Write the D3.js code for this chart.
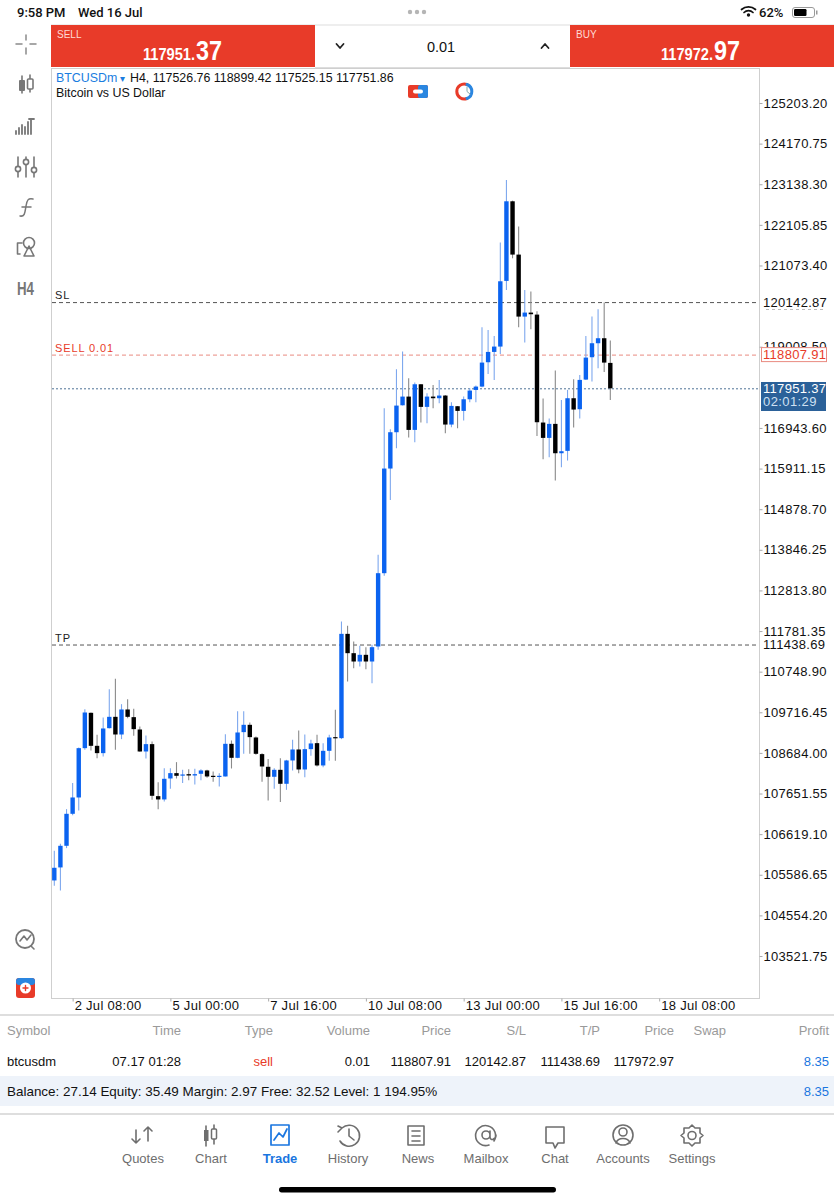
<!DOCTYPE html>
<html>
<head>
<meta charset="utf-8">
<script src="https://cdn.jsdelivr.net/npm/d3@7"></script>
<style>
  html, body { margin: 0; padding: 0; background: #fff; }
  svg { display: block; }
  text { font-family: "Liberation Sans", Arial, sans-serif; }
</style>
</head>
<body>
<div id="chart"></div>
<script>
// candles (H4 bars, oldest first)
var opens = [105442,105773,106323,107136,107551,108805,109703,108864,108678,109313,109601,109152,109788,109593,109279,108720,108907,107585,107501,108034,
  108170,108110,108144,108110,108153,108238,108102,108093,108085,108915,108559,109212,109398,109076,108653,108331,108077,108254,107899,108492,
  108771,108263,108780,108932,108365,108737,109085,109059,111710,111219,111007,111177,111007,111389,113252,115912,116835,117520,117741,116894,
  118054,117479,117741,117699,117767,117030,117496,117377,117673,117910,117995,118614,118876,119012,120681,122705,121350,119774,119876,119825,
  117081,116691,117047,116301,116361,117699,117420,118173,118741,119097,119224,118597];
var highs = [106196,106374,107255,107916,108822,109796,109711,109144,109584,110304,110567,109923,110050,109805,109356,109127,108974,107941,108297,108297,
  108449,108254,108271,108280,108271,108254,108212,108170,109161,109000,109745,109745,109457,109102,108678,108526,108297,108551,108508,109017,
  109254,109152,109017,109144,108932,109144,109779,112024,111914,111515,111405,111371,111431,113718,117445,116911,118436,118885,118207,118097,
  118060,117826,118038,118165,117783,117597,117504,117741,117953,118021,119503,119435,119283,121655,123247,122722,122061,120452,120409,119910,
  117691,117182,118402,117657,117911,118182,118292,119283,119774,119961,120130,119164];
var lows = [105307,105188,106264,107100,107221,108763,108746,108551,108593,109305,108763,109034,109567,109118,108712,108542,107492,107255,107450,107772,
  108034,107916,107992,107882,107992,108051,107950,107831,108085,108288,108551,108661,108661,108640,107950,107475,107772,107433,107746,108238,
  108170,108068,108610,108339,108322,108483,108483,109034,110499,110838,110880,110812,110457,111304,113184,115115,116428,117512,116699,116581,
  117080,117063,117445,117572,116809,116962,116936,117131,117597,117597,117979,118317,118165,118826,120452,121256,119503,119113,119452,116742,
  116149,116200,115607,115946,116115,116954,117182,118165,118123,118461,118368,117657];
var closes = [105764,106323,107136,107551,108805,109711,108864,108678,109305,109601,109152,109788,109601,109288,108720,108907,107594,107501,108026,108170,
  108102,108136,108110,108144,108238,108085,108093,108102,108915,108559,109203,109398,109085,108661,108339,108077,108254,107899,108492,108771,
  108263,108780,108924,108365,108737,109076,109068,111710,111219,111007,111177,111007,111371,113252,115912,116835,117512,117741,116894,118054,
  117479,117741,117699,117767,117030,117504,117377,117673,117894,117995,118605,118876,119012,120672,122705,121350,119774,119876,119834,117089,
  116691,117047,116301,116352,117699,117411,118165,118732,119097,119224,118605,117951.37];

var priceTicks = [125203.20,124170.75,123138.30,122105.85,121073.40,119008.50,116943.60,115911.15,114878.70,113846.25,112813.80,111781.35,110748.90,
  109716.45,108684.00,107651.55,106619.10,105586.65,104554.20,103521.75];
var timeTickBars = [3,19,35,51,67,83,99];
var timeLabels = ["2 Jul 08:00","5 Jul 00:00","7 Jul 16:00","10 Jul 08:00","13 Jul 00:00","15 Jul 16:00","18 Jul 08:00"];

var slPrice = 120142.87, sellPrice = 118807.91, tpPrice = 111438.69, bidPrice = 117951.37;

var tableHead = ["Symbol","Time","Type","Volume","Price","S/L","T/P","Price","Swap","Profit"];
var tableRow = ["btcusdm","07.17 01:28","sell","0.01","118807.91","120142.87","111438.69","117972.97","","8.35"];
var tableRight = [null,181,273,370,451,526,600,674,726,829];
var navLabels = ["Quotes","Chart","Trade","History","News","Mailbox","Chat","Accounts","Settings"];
var navX = [143,211,280,348,418,486,555,623,692];

var W = 834, H = 1200;
var BLUE = "#0b63f0", RED = "#e83b29", GREY = "#6e6e6e", NAVBLUE = "#1a76e0";

var svg = d3.select("#chart").append("svg").attr("width", W).attr("height", H);

var x = d3.scaleLinear().domain([0, 91]).range([54.3, 610.3]);
var y = d3.scaleLinear().domain([103521.75, 125203.20]).range([956, 103]);

var label = function(sel, px, py, str, size, fill, anchor, weight) {
    return sel.append("text")
        .attr("x", px).attr("y", py)
        .attr("font-size", size)
        .attr("fill", fill || "#000")
        .attr("text-anchor", anchor || "start")
        .attr("font-weight", weight || "normal")
        .text(str);
};
var squeeze = function(sel, len) {
    return sel.attr("textLength", len).attr("lengthAdjust", "spacingAndGlyphs");
};
var icon = function(d, color, w, fill) {
    return svg.append("path").attr("d", d)
        .attr("fill", fill || "none")
        .attr("stroke", color || GREY)
        .attr("stroke-width", w || 1.5)
        .attr("stroke-linecap", "round").attr("stroke-linejoin", "round");
};

// plot frame
svg.append("rect").attr("x", 51.5).attr("y", 68.5).attr("width", 708).attr("height", 930)
    .attr("fill", "#fff").attr("stroke", "#cfcfcf");

// axes
var yAxis = d3.axisRight(y).tickValues(priceTicks).tickSize(3).tickPadding(1)
    .tickFormat(function(d) { return d.toFixed(2); });
var gy = svg.append("g").attr("transform", "translate(759.5,0)").call(yAxis);
gy.select(".domain").remove();
gy.selectAll("text").attr("font-size", 13).attr("letter-spacing", 0.3).attr("fill", "#111")
    .style("font-family", '"Liberation Sans", sans-serif');
gy.selectAll("line").attr("stroke", "#aaa");

var xAxis = d3.axisBottom(x).tickValues(timeTickBars).tickSize(3).tickPadding(0)
    .tickFormat(function(d, i) { return timeLabels[i]; });
var gx = svg.append("g").attr("transform", "translate(0,998.5)").call(xAxis);
gx.select(".domain").remove();
gx.selectAll("text").attr("font-size", 13).attr("text-anchor", "start").attr("dx", 1.5).attr("dy", "0.62em").attr("letter-spacing", 0.3)
    .attr("fill", "#111").style("font-family", '"Liberation Sans", sans-serif');
gx.selectAll("line").attr("stroke", "#aaa");

// trade levels
var levelLine = function(price, color, dash) {
    svg.append("line")
        .attr("x1", 52).attr("x2", 759)
        .attr("y1", y(price) + 0.5).attr("y2", y(price) + 0.5)
        .attr("stroke", color).attr("stroke-width", 1).attr("stroke-dasharray", dash);
};
levelLine(slPrice, "#555", "4,3");
levelLine(sellPrice, "#e98a80", "4,3");
levelLine(tpPrice, "#555", "4,3");
levelLine(bidPrice, "#4f7396", "2,2");

label(svg, 55, y(slPrice) - 3, "SL", 11, "#222").attr("letter-spacing", 1);
label(svg, 55, y(sellPrice) - 3, "SELL 0.01", 11, RED).attr("letter-spacing", 0.9);
label(svg, 55, y(tpPrice) - 3, "TP", 11, "#222").attr("letter-spacing", 1);

// candles
var bars = d3.range(opens.length).map(function(i) {
    return { i: i, o: opens[i], h: highs[i], l: lows[i], c: closes[i], up: closes[i] >= opens[i] };
});
var candle = svg.append("g").selectAll("g").data(bars).enter().append("g");
candle.append("line")
    .attr("x1", function(d) { return x(d.i); })
    .attr("x2", function(d) { return x(d.i); })
    .attr("y1", function(d) { return y(d.h); })
    .attr("y2", function(d) { return y(d.l); })
    .attr("stroke", function(d) { return d.up ? "#7ea8ee" : "#8a8a8a"; })
    .attr("stroke-width", 1.1);
candle.append("rect")
    .attr("x", function(d) { return x(d.i) - 2.2; })
    .attr("width", 4.4)
    .attr("y", function(d) { return y(Math.max(d.o, d.c)); })
    .attr("height", function(d) { return Math.max(1.2, Math.abs(y(d.o) - y(d.c))); })
    .attr("fill", function(d) { return d.up ? BLUE : "#000"; });

// price boxes on the right
label(svg, 763, y(slPrice) + 4.5, slPrice.toFixed(2), 13, "#111").attr("letter-spacing", 0.3);
svg.append("line").attr("x1", 766).attr("x2", 826).attr("y1", 309.5).attr("y2", 309.5)
    .attr("stroke", "#bbb").attr("stroke-dasharray", "3,3");
label(svg, 763, y(tpPrice) + 4.5, tpPrice.toFixed(2), 13, "#111").attr("letter-spacing", 0.3);

svg.append("rect").attr("x", 761.5).attr("y", y(sellPrice) - 7).attr("width", 65).attr("height", 14)
    .attr("fill", "#fff").attr("stroke", "#e98a80");
label(svg, 763, y(sellPrice) + 4.5, sellPrice.toFixed(2), 13, RED).attr("letter-spacing", 0.3);

svg.append("rect").attr("x", 761).attr("y", 382).attr("width", 65).attr("height", 29).attr("fill", "#2b6199");
label(svg, 763, 393, bidPrice.toFixed(2), 13, "#fff").attr("letter-spacing", 0.3);
label(svg, 763, 406, "02:01:29", 13, "#cfe0f2").attr("letter-spacing", 0.4);

// chart caption
label(svg, 56, 82, "BTCUSDm", 12.4, "#1a7de0");
label(svg, 120, 82, "\u25BE", 10, "#1a7de0");
label(svg, 130, 82, "H4, 117526.76 118899.42 117525.15 117751.86", 12.4, "#111");
label(svg, 56, 97, "Bitcoin vs US Dollar", 12.4, "#111");
// one click trading + clock badges
svg.append("rect").attr("x", 408).attr("y", 85).attr("width", 20).attr("height", 13).attr("rx", 2).attr("fill", RED);
svg.append("rect").attr("x", 418).attr("y", 85).attr("width", 10).attr("height", 13).attr("rx", 2).attr("fill", "#2a86e0");
svg.append("rect").attr("x", 413).attr("y", 89.5).attr("width", 10).attr("height", 4).attr("rx", 2).attr("fill", "#fff");
icon("M467 84.5A7.5 7.5 0 1 0 467 98.5", RED, 3);
icon("M467 84.5A7.5 7.5 0 0 1 467 98.5", "#2a86e0", 3);
icon("M467 87V91.5L470 94", "#8aa", 1);

// status bar
label(svg, 17, 17, "9:58 PM", 13, "#111", "start", 500).style("font-family", "Roboto");
label(svg, 78, 17, "Wed 16 Jul", 13, "#111", "start", 500).style("font-family", "Roboto");
[410, 417, 424].forEach(function(cx) {
    svg.append("circle").attr("cx", cx).attr("cy", 12).attr("r", 2.2).attr("fill", "#b5b5b5");
});
icon("M741.5 9.5a10.5 10.5 0 0 1 14 0M744 12.5a6.5 6.5 0 0 1 9 0", "#111", 1.7);
svg.append("circle").attr("cx", 748.5).attr("cy", 15).attr("r", 1.7).attr("fill", "#111");
label(svg, 759, 17, "62%", 13, "#111", "start", 500).style("font-family", "Roboto");
svg.append("rect").attr("x", 792.5).attr("y", 7.5).attr("width", 22).attr("height", 10).attr("rx", 2.5)
    .attr("fill", "none").attr("stroke", "#999");
svg.append("rect").attr("x", 794).attr("y", 9).attr("width", 12.5).attr("height", 7).attr("rx", 1.2).attr("fill", "#000");
svg.append("rect").attr("x", 816).attr("y", 10.5).attr("width", 1.5).attr("height", 4).attr("fill", "#999");

// sell / volume / buy strip
svg.append("line").attr("x1", 51).attr("x2", 834).attr("y1", 25).attr("y2", 25).attr("stroke", "#ddd");
svg.append("rect").attr("x", 51).attr("y", 25).attr("width", 264).attr("height", 42).attr("fill", RED);
svg.append("rect").attr("x", 570).attr("y", 25).attr("width", 264).attr("height", 42).attr("fill", RED);
svg.append("line").attr("x1", 315).attr("x2", 570).attr("y1", 67.5).attr("y2", 67.5).attr("stroke", "#ddd");

label(svg, 57, 38, "SELL", 10, "#ffd9d3");
squeeze(label(svg, 143, 60, "117951.", 16, "#fff", "start", 700), 52);
squeeze(label(svg, 196, 60, "37", 28, "#fff", "start", 700), 26);
label(svg, 576, 38, "BUY", 10, "#ffd9d3");
squeeze(label(svg, 661, 60, "117972.", 16, "#fff", "start", 700), 52);
squeeze(label(svg, 714, 60, "97", 28, "#fff", "start", 700), 26);
label(svg, 441, 52, "0.01", 14.5, "#111", "middle");
icon("M336.5 44L340 48L343.5 44", "#222", 1.8);
icon("M541.5 48L545 44L548.5 48", "#222", 1.8);

// left toolbar
icon("M16 44H22M30 44H36M26 35V40M26 48V54", "#8a8a8a", 1.5);
icon("M22 76V93M30 75V92", "#777", 1.6);
svg.append("rect").attr("x", 19).attr("y", 80).attr("width", 6).attr("height", 11).attr("rx", 1).attr("fill", "#777");
svg.append("rect").attr("x", 27.5).attr("y", 79).attr("width", 5.5).attr("height", 10).attr("rx", 1)
    .attr("fill", "#fff").attr("stroke", "#777").attr("stroke-width", 1.6);
icon("M16 134V131M19 134V128M22 134V125M25 134V127M28 134V122M31 134V120M29 119H34", "#777", 1.8);
icon("M18 157V177M26 157V177M34 157V177", "#777", 1.6);
[[18, 169], [26, 162], [34, 170]].forEach(function(p) {
    svg.append("circle").attr("cx", p[0]).attr("cy", p[1]).attr("r", 2.6)
        .attr("fill", "#fff").attr("stroke", "#777").attr("stroke-width", 1.6);
});
icon("M20 216C25 217 25 212 26 206C27 200 28 198 33 199M22 207H31", "#777", 1.5);
svg.append("circle").attr("cx", 29).attr("cy", 243).attr("r", 5.5)
    .attr("fill", "none").attr("stroke", "#777").attr("stroke-width", 1.6);
icon("M29 246L34 256H24ZM22 243H17.5V254H20", "#777", 1.6);
squeeze(label(svg, 17, 295, "H4", 18, "#777", "start", "bold"), 17);
svg.append("circle").attr("cx", 25).attr("cy", 939).attr("r", 9)
    .attr("fill", "none").attr("stroke", "#777").attr("stroke-width", 1.8);
icon("M20 941L24 936L27 940L31 935M31 946L34 949", "#777", 1.6);
svg.append("rect").attr("x", 16).attr("y", 978).attr("width", 19).attr("height", 20).attr("rx", 3).attr("fill", RED);
svg.append("rect").attr("x", 16).attr("y", 978).attr("width", 19).attr("height", 7).attr("rx", 3).attr("fill", "#2a86e0");
svg.append("circle").attr("cx", 25.5).attr("cy", 988).attr("r", 5.5).attr("fill", "#fff");
icon("M25.5 985.5V990.5M23 988H28", RED, 1.4);

// positions table
svg.append("line").attr("x1", 0).attr("x2", W).attr("y1", 1015).attr("y2", 1015).attr("stroke", "#dedede").attr("stroke-width", 2);
svg.append("rect").attr("x", 0).attr("y", 1076).attr("width", W).attr("height", 30).attr("fill", "#eef3fa");
svg.append("line").attr("x1", 0).attr("x2", W).attr("y1", 1114).attr("y2", 1114).attr("stroke", "#dedede").attr("stroke-width", 2);

tableHead.forEach(function(t, i) {
    if (i === 0) label(svg, 7, 1035, t, 13, "#9a9a9a");
    else label(svg, tableRight[i], 1035, t, 13, "#9a9a9a", "end");
});
tableRow.forEach(function(t, i) {
    var fill = t === "sell" ? RED : (i === 9 ? NAVBLUE : "#111");
    if (i === 0) label(svg, 7, 1066, t, 13, fill);
    else label(svg, tableRight[i], 1066, t, 13, fill, "end");
});
label(svg, 7, 1096, "Balance: 27.14 Equity: 35.49 Margin: 2.97 Free: 32.52 Level: 1 194.95%", 13.45, "#111");
label(svg, 829, 1096, "8.35", 13, NAVBLUE, "end");

// bottom navigation
var navColor = function(i) { return navLabels[i] === "Trade" ? NAVBLUE : GREY; };
navLabels.forEach(function(t, i) {
    label(svg, navX[i], 1163, t, 13, navColor(i), "middle", navLabels[i] === "Trade" ? "bold" : "normal");
});
var navIcons = [
    "M136 1130V1143M132 1139L136 1143L140 1139M148 1141V1127M144 1131L148 1127L152 1131",
    "M206 1126V1146M214 1125V1144",
    "M271 1125H289V1145H271ZM274 1140L279 1133L283 1137L287 1129",
    "M342 1128A10.5 10.5 0 1 1 340 1141M338 1132L342 1128L338 1126M349 1129V1136L354 1140",
    "M408 1126H424V1145H408ZM412 1131H420M412 1136H420M412 1141H420",
    "M494 1141A10 10 0 1 0 489 1145M490 1135A4 4 0 1 1 482 1135A4 4 0 1 1 490 1135M490 1131V1137C490 1141 496 1140 496 1135",
    "M546 1127H564V1143H558L555 1148L553 1143H546Z",
    "M633 1135A10 10 0 1 1 613 1135A10 10 0 1 1 633 1135M627 1132A4 4 0 1 1 619 1132A4 4 0 1 1 627 1132M616 1143C618 1137 628 1137 630 1143",
    "M692 1125L695 1128L700 1128L700 1133L703 1135.5L700 1138L700 1143L695 1143L692 1146L689 1143L684 1143L684 1138L681 1135.5L684 1133L684 1128L689 1128ZM696 1135.5A4 4 0 1 1 688 1135.5A4 4 0 1 1 696 1135.5"
];
navIcons.forEach(function(d, i) { icon(d, navColor(i), i === 2 ? 1.7 : 1.6); });
svg.append("rect").attr("x", 204).attr("y", 1130).attr("width", 4.5).attr("height", 11).attr("fill", GREY);
svg.append("rect").attr("x", 211.5).attr("y", 1129).attr("width", 5).attr("height", 10).attr("rx", 1)
    .attr("fill", "#fff").attr("stroke", GREY).attr("stroke-width", 1.5);

// home indicator
svg.append("rect").attr("x", 279).attr("y", 1187).attr("width", 277).attr("height", 5.5).attr("rx", 2.7).attr("fill", "#000");
</script>
</body>
</html>
